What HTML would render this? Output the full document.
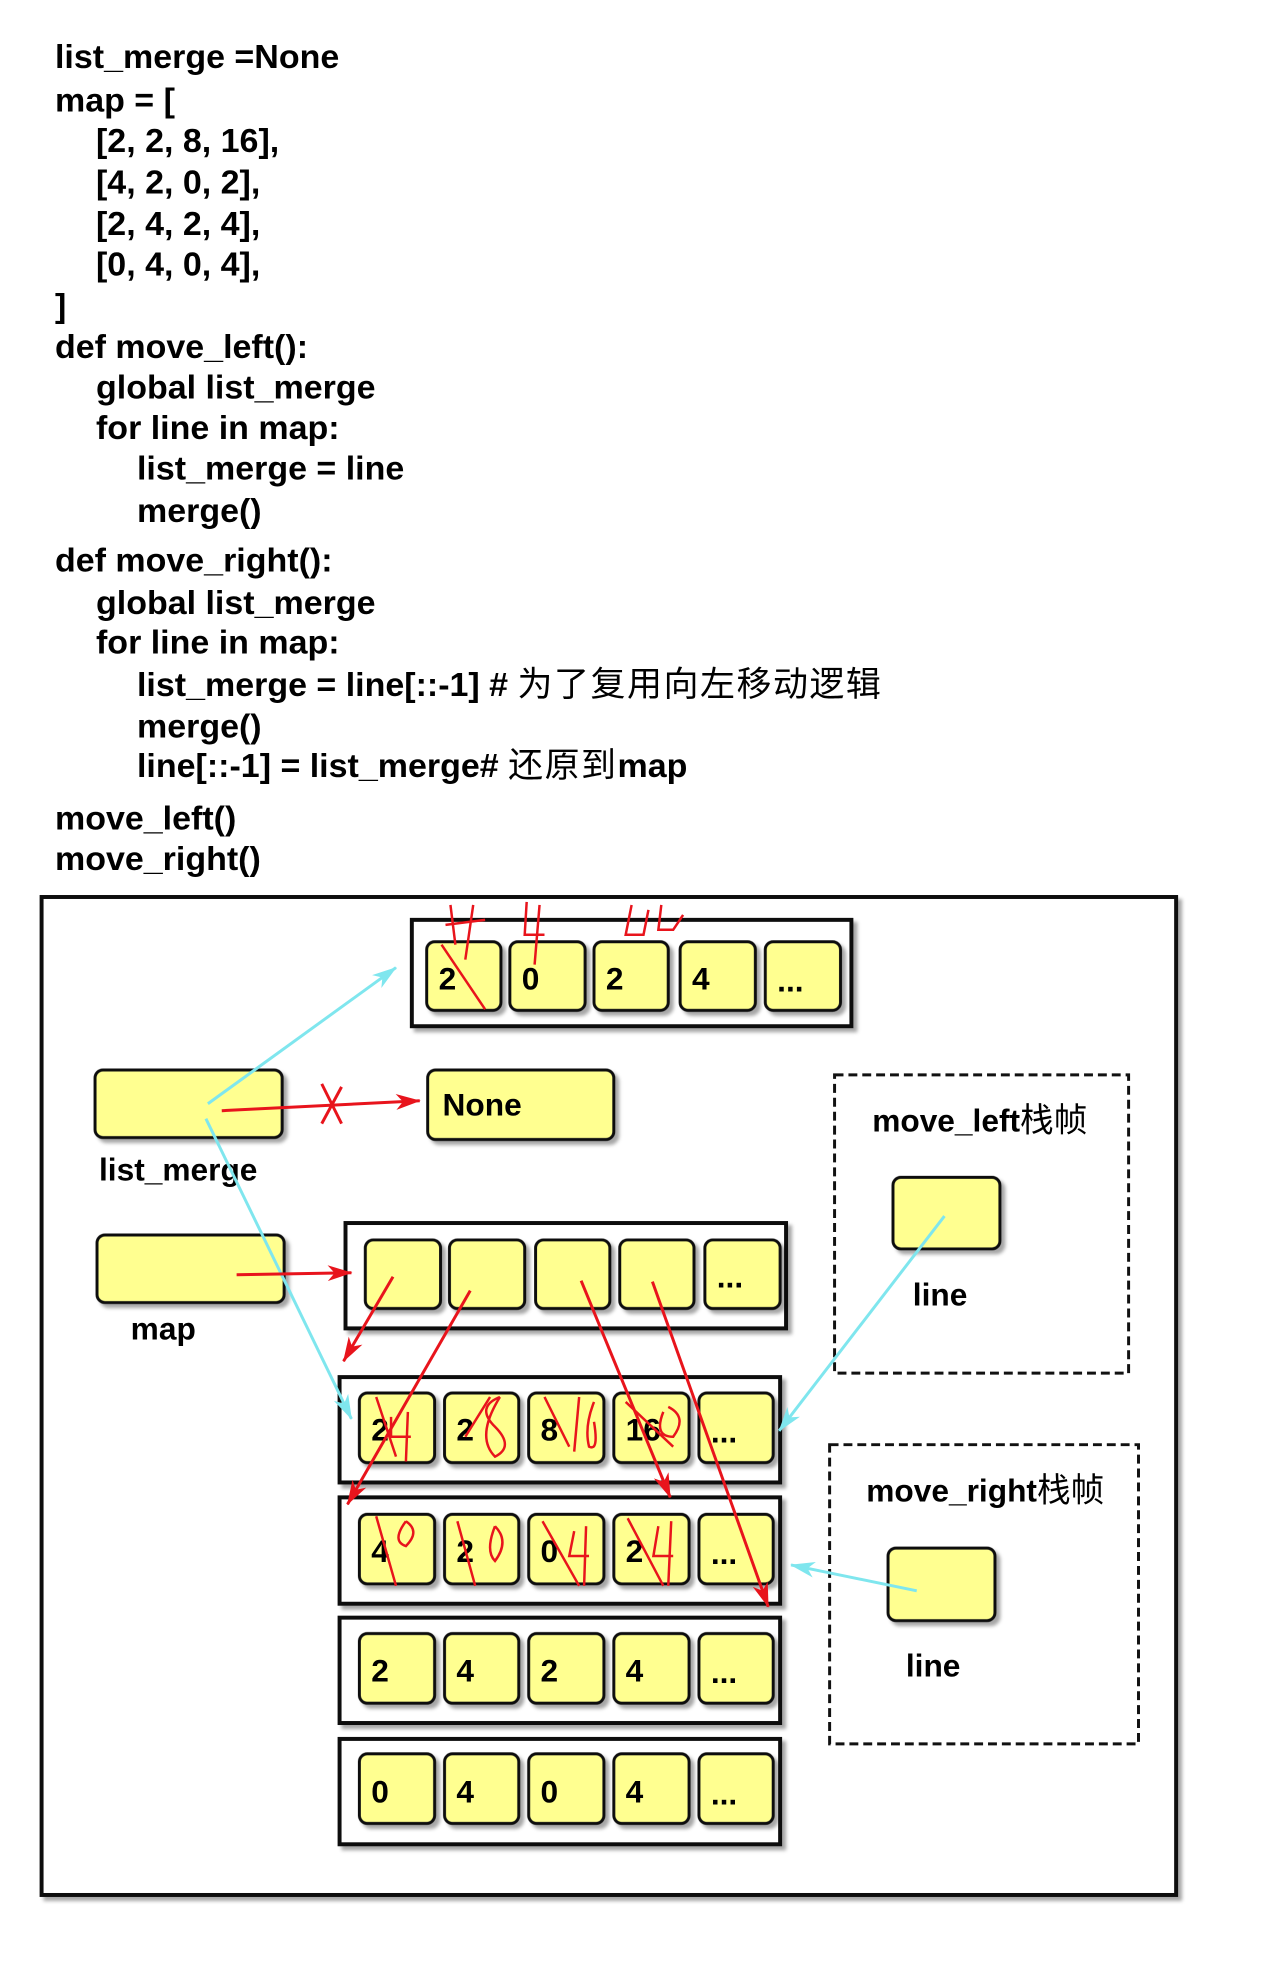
<!DOCTYPE html>
<html><head><meta charset="utf-8">
<style>
body{margin:0;background:#fff;width:1264px;height:1975px;overflow:hidden}
svg text{font-family:"Liberation Sans","Noto Sans CJK SC",sans-serif;font-weight:bold;fill:#000}
</style></head><body>
<svg width="1264" height="1975" xmlns="http://www.w3.org/2000/svg">
<defs>
<filter id="sh" x="-10%" y="-10%" width="130%" height="130%"><feDropShadow dx="4" dy="4" stdDeviation="2" flood-color="#000" flood-opacity="0.35"/></filter>
<marker id="ac" markerWidth="26" markerHeight="20" refX="24" refY="10" orient="auto" markerUnits="userSpaceOnUse"><path d="M0,2 L25,10 L0,18 L7,10z" fill="#7fe6ee"/></marker>
<marker id="arr" markerWidth="26" markerHeight="20" refX="24" refY="10" orient="auto" markerUnits="userSpaceOnUse"><path d="M0,2 L25,10 L0,18 L7,10z" fill="#e8141c"/></marker>
</defs>
<g font-size="34" transform="translate(0,68) scale(1,0.989) translate(0,-68)">
<text x="55" y="68">list_merge =None</text>
<text x="55" y="112">map = [</text>
<text x="96" y="153">[2, 2, 8, 16],</text>
<text x="96" y="195">[4, 2, 0, 2],</text>
<text x="96" y="237">[2, 4, 2, 4],</text>
<text x="96" y="278">[0, 4, 0, 4],</text>
<text x="55" y="320">]</text>
<text x="55" y="361">def move_left():</text>
<text x="96" y="402">global list_merge</text>
<text x="96" y="443">for line in map:</text>
<text x="137" y="484">list_merge = line</text>
<text x="137" y="527">merge()</text>
<text x="55" y="577">def move_right():</text>
<text x="96" y="620">global list_merge</text>
<text x="96" y="660">for line in map:</text>
<text x="137" y="703">list_merge = line[::-1] # <tspan font-weight="normal" font-size="35" letter-spacing="1.5">为了复用向左移动逻辑</tspan></text>
<text x="137" y="745">merge()</text>
<text x="137" y="785">line[::-1] = list_merge# <tspan font-weight="normal" font-size="35" letter-spacing="1.5">还原到</tspan>map</text>
<text x="55" y="838">move_left()</text>
<text x="55" y="879">move_right()</text>
</g>
<g transform="translate(0,897) scale(0.99,0.994) translate(0,-897)">
<rect x="42" y="897" width="1146" height="1004" fill="#fff" stroke="#111" stroke-width="4" filter="url(#sh)"/>
<g stroke="#111" stroke-width="4" fill="#fff" filter="url(#sh)">
<rect x="416" y="920" width="444" height="107"/>
<rect x="349" y="1225" width="445" height="106"/>
<rect x="343" y="1380" width="445" height="106"/>
<rect x="343" y="1501" width="445" height="107"/>
<rect x="343" y="1622" width="445" height="106"/>
<rect x="343" y="1744" width="445" height="106"/>
</g>
<g stroke="#111" stroke-width="3" fill="none" stroke-dasharray="9,5">
<rect x="843" y="1076" width="297" height="300"/>
<rect x="838" y="1448" width="312" height="301"/>
</g>
<g fill="#ffff90" stroke="#111" stroke-width="3" filter="url(#sh)">
<rect x="431" y="942" width="75" height="69" rx="8"/><rect x="515" y="942" width="76" height="69" rx="8"/><rect x="600" y="942" width="75" height="69" rx="8"/><rect x="687" y="942" width="76" height="69" rx="8"/><rect x="773" y="942" width="76" height="69" rx="8"/>
<rect x="96" y="1071" width="189" height="68" rx="8"/>
<rect x="432" y="1071" width="188" height="70" rx="8"/>
<rect x="98" y="1237" width="189" height="68" rx="8"/>
<rect x="369" y="1242" width="76" height="69" rx="8"/><rect x="454" y="1242" width="76" height="69" rx="8"/><rect x="541" y="1242" width="75" height="69" rx="8"/><rect x="626" y="1242" width="75" height="69" rx="8"/><rect x="712" y="1242" width="76" height="69" rx="8"/>
<g id="r1"><rect x="363" y="1396" width="76" height="70" rx="8"/><rect x="449" y="1396" width="75" height="70" rx="8"/><rect x="534" y="1396" width="76" height="70" rx="8"/><rect x="620" y="1396" width="76" height="70" rx="8"/><rect x="706" y="1396" width="75" height="70" rx="8"/></g>
<use href="#r1" y="122"/><use href="#r1" y="242"/><use href="#r1" y="363"/>
<rect x="902" y="1179" width="108" height="72" rx="8"/>
<rect x="897" y="1552" width="108" height="73" rx="8"/>
</g>
<g font-size="32">
<text x="443" y="990">2</text><text x="527" y="990">0</text><text x="612" y="990">2</text><text x="699" y="990">4</text><text x="785" y="992">...</text>
<text x="447" y="1117">None</text>
<text x="100" y="1182">list_merge</text>
<text x="132" y="1342">map</text>
<text x="724" y="1290">...</text>
<text x="375" y="1444">2</text><text x="461" y="1444">2</text><text x="546" y="1444">8</text><text x="632" y="1444">16</text><text x="718" y="1446">...</text>
<text x="375" y="1566">4</text><text x="461" y="1566">2</text><text x="546" y="1566">0</text><text x="632" y="1566">2</text><text x="718" y="1568">...</text>
<text x="375" y="1686">2</text><text x="461" y="1686">4</text><text x="546" y="1686">2</text><text x="632" y="1686">4</text><text x="718" y="1688">...</text>
<text x="375" y="1808">0</text><text x="461" y="1808">4</text><text x="546" y="1808">0</text><text x="632" y="1808">4</text><text x="718" y="1810">...</text>
<text x="881" y="1133">move_left<tspan font-weight="normal" font-size="34">栈帧</tspan></text>
<text x="922" y="1308">line</text>
<text x="875" y="1505">move_right<tspan font-weight="normal" font-size="34">栈帧</tspan></text>
<text x="915" y="1681">line</text>
</g>
<g stroke="#7fe6ee" stroke-width="3" fill="none">
<line x1="210" y1="1105" x2="400" y2="968" marker-end="url(#ac)"/>
<line x1="208" y1="1120" x2="355" y2="1422" marker-end="url(#ac)"/>
<line x1="954" y1="1218" x2="787" y2="1434" marker-end="url(#ac)"/>
<line x1="926" y1="1595" x2="799" y2="1569" marker-end="url(#ac)"/>
</g>
<g stroke="#e8141c" stroke-width="3" fill="none">
<line x1="224" y1="1112" x2="424" y2="1102" marker-end="url(#arr)"/>
<path d="M325,1085 L345,1125 M345,1088 L325,1125"/>
<line x1="239" y1="1277" x2="355" y2="1275" marker-end="url(#arr)"/>
<line x1="397" y1="1279" x2="347" y2="1364" marker-end="url(#arr)"/>
<line x1="475" y1="1293" x2="351" y2="1508" marker-end="url(#arr)"/>
<line x1="587" y1="1283" x2="677" y2="1501" marker-end="url(#arr)"/>
<line x1="659" y1="1284" x2="776" y2="1611" marker-end="url(#arr)"/>
<g stroke-width="2.5">
<path d="M446,945 L490,1010 M455,905 L460,945 M450,925 L490,920 M478,905 L470,960"/>
<path d="M532,902 L530,935 L550,935 M545,905 L540,965"/>
<path d="M638,905 L632,935 L650,935 L655,910 M668,905 L665,930 L680,930 L690,915"/>
<path d="M380,1400 L400,1460 M395,1420 L395,1440 L415,1440 M412,1415 L410,1465"/>
<path d="M470,1440 L495,1400 M505,1400 Q480,1410 500,1430 Q520,1450 500,1460 Q480,1440 505,1400"/>
<path d="M550,1400 L575,1450 M585,1400 L580,1455 M600,1405 Q590,1430 595,1450 Q605,1455 600,1425"/>
<path d="M632,1405 L680,1450 M670,1415 Q660,1440 680,1440 Q695,1420 675,1410"/>
<path d="M380,1520 L400,1590 M410,1525 Q395,1545 410,1550 Q425,1535 410,1525"/>
<path d="M462,1525 L480,1590 M500,1530 Q490,1555 500,1565 Q515,1545 500,1530"/>
<path d="M548,1525 L585,1590 M580,1535 L575,1560 L595,1560 M592,1530 L590,1590"/>
<path d="M634,1522 L670,1590 M665,1530 L660,1560 L680,1560 M678,1525 L675,1590"/>
</g>
</g>
</g>
</svg>
</body></html>
